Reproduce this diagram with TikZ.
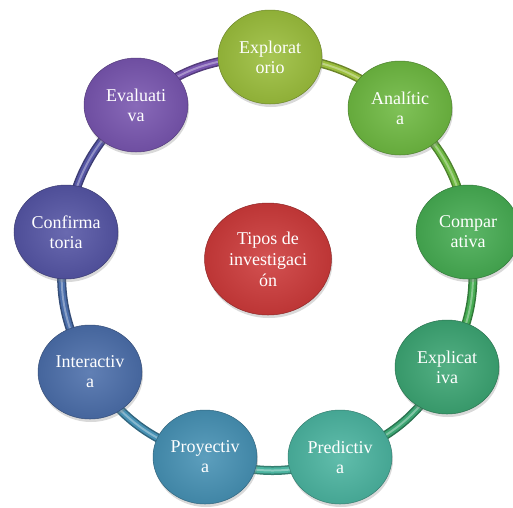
\documentclass[tikz,border=0pt]{standalone}
\usepackage{fontspec}
\setmainfont{Liberation Serif}
\usetikzlibrary{shapes.geometric,shadows,backgrounds}
\definecolor{cExp}{RGB}{155,190,60}
\definecolor{cAna}{RGB}{110,185,65}
\definecolor{cCom}{RGB}{70,172,82}
\definecolor{cExl}{RGB}{60,165,115}
\definecolor{cPre}{RGB}{75,180,160}
\definecolor{cPro}{RGB}{70,145,180}
\definecolor{cInt}{RGB}{75,110,170}
\definecolor{cCon}{RGB}{85,85,165}
\definecolor{cEva}{RGB}{120,85,175}
\definecolor{cCen}{RGB}{205,58,58}
\tikzset{
  bubble/.style={ellipse, minimum width=104pt, minimum height=94pt, inner sep=0pt,
    text=white, align=center, font=\fontsize{18}{20}\selectfont,
    inner color=#1!88!white, outer color=#1!92!black, draw=#1!70!black, line width=0.5pt,
    drop shadow={opacity=0.3, shadow xshift=1pt, shadow yshift=-3pt}},
  tubeout/.style={line width=9pt, draw=#1!70!black},
  tubein/.style={line width=6pt, draw=#1},
  tubehi/.style={line width=2pt, draw=#1!65!white},
}
\begin{document}
\begin{tikzpicture}[x=1pt,y=-1pt]
\useasboundingbox (0,0) rectangle (513,507);
\node[bubble=cExp] (exp) at (270,57) {Explorat\\orio};
\node[bubble=cAna] (ana) at (400,108) {Analític\\a};
\node[bubble=cCom] (com) at (468,232) {Compar\\ativa};
\node[bubble=cExl] (exl) at (447,367) {Explicat\\iva};
\node[bubble=cPre] (pre) at (340,457) {Predictiv\\a};
\node[bubble=cPro] (pro) at (205,457) {Proyectiv\\a};
\node[bubble=cInt] (int) at (90,372) {Interactiv\\a};
\node[bubble=cCon] (con) at (66,232) {Confirma\\toria};
\node[bubble=cEva] (eva) at (136,105) {Evaluati\\va};
\node[bubble=cCen, minimum width=127pt, minimum height=112pt, font=\fontsize{18}{21}\selectfont] (cen) at (268,259) {Tipos de\\investigaci\\ón};
\begin{pgfonlayer}{background}
\foreach \a/\b/\c in {exp/ana/cExp, ana/com/cAna, com/exl/cCom, exl/pre/cExl, pre/pro/cPre, pro/int/cPro, int/con/cInt, con/eva/cCon, eva/exp/cEva}{
  \draw[tubeout=\c] (\a.center) to[bend left=20] (\b.center);
  \draw[tubein=\c] (\a.center) to[bend left=20] (\b.center);
  \draw[tubehi=\c] (\a.center) to[bend left=20] (\b.center);
}
\end{pgfonlayer}
\end{tikzpicture}
\end{document}
